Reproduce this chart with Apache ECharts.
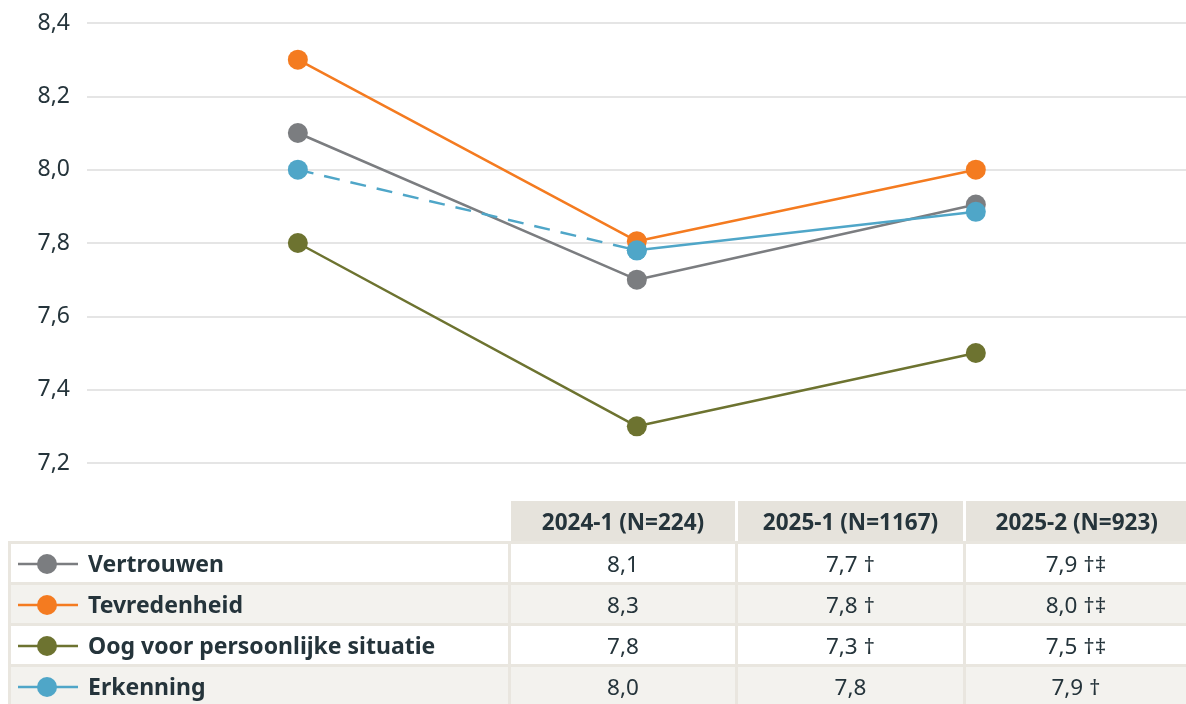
<!DOCTYPE html>
<html>
<head>
<meta charset="utf-8">
<script src="https://cdn.jsdelivr.net/npm/echarts@6/dist/echarts.min.js"></script>
<style>
  html, body { margin: 0; padding: 0; background: #fff; }
  body { width: 1186px; height: 704px; position: relative; overflow: hidden;
         font-family: "Noto Sans", "Open Sans", sans-serif; color: #25343b; }
  #chart { position: absolute; left: 0; top: 0; width: 1186px; height: 704px; }
  table { position: absolute; left: 8px; top: 501px; width: 1181px;
          border-collapse: collapse; table-layout: fixed; font-size: 22.5px; }
  th { background: #e6e3dc; font-weight: 700; height: 40px; padding: 0;
       border-left: 3px solid #fff; border-bottom: 3px solid #e9e6df; }
  th.blank { background: #fff; border: none; border-bottom: 3px solid #e9e6df; }
  td { height: 38px; padding: 0; text-align: center;
       border: 3px solid #e9e6df; }
  tr:nth-child(odd) td { background: #f3f2ee; }
  td.name { text-align: left; font-weight: 700; font-size: 23px; white-space: nowrap; }
  td.name svg { vertical-align: middle; margin: 0 10px 0 5px; position: relative; top: -2px; }
</style>
</head>
<body>
<div id="chart"></div>
<table id="tbl"></table>
<script>
const periods = ['2024-1 (N=224)', '2025-1 (N=1167)', '2025-2 (N=923)'];
const names = ['Vertrouwen', 'Tevredenheid', 'Oog voor persoonlijke situatie', 'Erkenning'];
const colors = ['#7b7d80', '#f47b20', '#6d7330', '#4fa6c8'];

const vertrouwen = [8.1, 7.7, 7.905];
const tevredenheid = [8.3, 7.805, 8.0];
const oog = [7.8, 7.3, 7.5];
const erkenning = [8.0, 7.78, 7.885];

const tableCells = [
  ['8,1', '7,7 †', '7,9 †‡'],
  ['8,3', '7,8 †', '8,0 †‡'],
  ['7,8', '7,3 †', '7,5 †‡'],
  ['8,0', '7,8', '7,9 †']
];

function pts(arr, from, to) {
  return arr.map((v, i) => (i >= from && i <= to ? [i, v] : [i, null]));
}

function lineSeries(name, color, data, dashed, z) {
  return {
    type: 'line',
    name: name,
    data: data,
    symbol: 'circle',
    symbolSize: 20,
    z: z,
    connectNulls: false,
    itemStyle: { color: color },
    lineStyle: { color: color, width: 2.5, type: dashed ? [16, 11] : 'solid' },
    emphasis: { disabled: true }
  };
}

const chart = echarts.init(document.getElementById('chart'));
chart.setOption({
  animation: false,
  grid: { left: 87, right: 0, top: 23, bottom: 241 },
  xAxis: {
    type: 'value', min: -0.622, max: 2.62, show: false
  },
  yAxis: {
    type: 'value', min: 7.2, max: 8.4, interval: 0.2,
    axisLine: { show: false }, axisTick: { show: false },
    splitLine: { lineStyle: { color: '#dcdcdc', width: 1.5 } },
    axisLabel: {
      color: '#25343b', fontSize: 23, margin: 17,
      fontFamily: 'Noto Sans',
      formatter: v => v.toFixed(1).replace('.', ',')
    }
  },
  series: [
    lineSeries(names[2], colors[2], pts(oog, 0, 2), false, 2),
    lineSeries(names[0], colors[0], pts(vertrouwen, 0, 2), false, 3),
    lineSeries(names[3], colors[3], pts(erkenning, 0, 1), true, 4),
    lineSeries(names[1], colors[1], pts(tevredenheid, 0, 2), false, 5),
    lineSeries(names[3], colors[3], pts(erkenning, 1, 2), false, 6)
  ]
});

// data table below the chart
const tbl = document.getElementById('tbl');
let html = '<colgroup><col style="width:500px"><col style="width:227px"><col style="width:228px"><col></colgroup>';
html += '<tr><th class="blank"></th>' + periods.map(p => '<th>' + p + '</th>').join('') + '</tr>';
names.forEach((n, i) => {
  const c = colors[i];
  const icon = '<svg width="62" height="22"><line x1="2" y1="11" x2="62" y2="11" stroke="' + c +
    '" stroke-width="2.5"/><circle cx="31" cy="11" r="10" fill="' + c + '"/></svg>';
  html += '<tr><td class="name">' + icon + n + '</td>' +
    tableCells[i].map(v => '<td>' + v + '</td>').join('') + '</tr>';
});
tbl.innerHTML = html;
</script>
</body>
</html>
